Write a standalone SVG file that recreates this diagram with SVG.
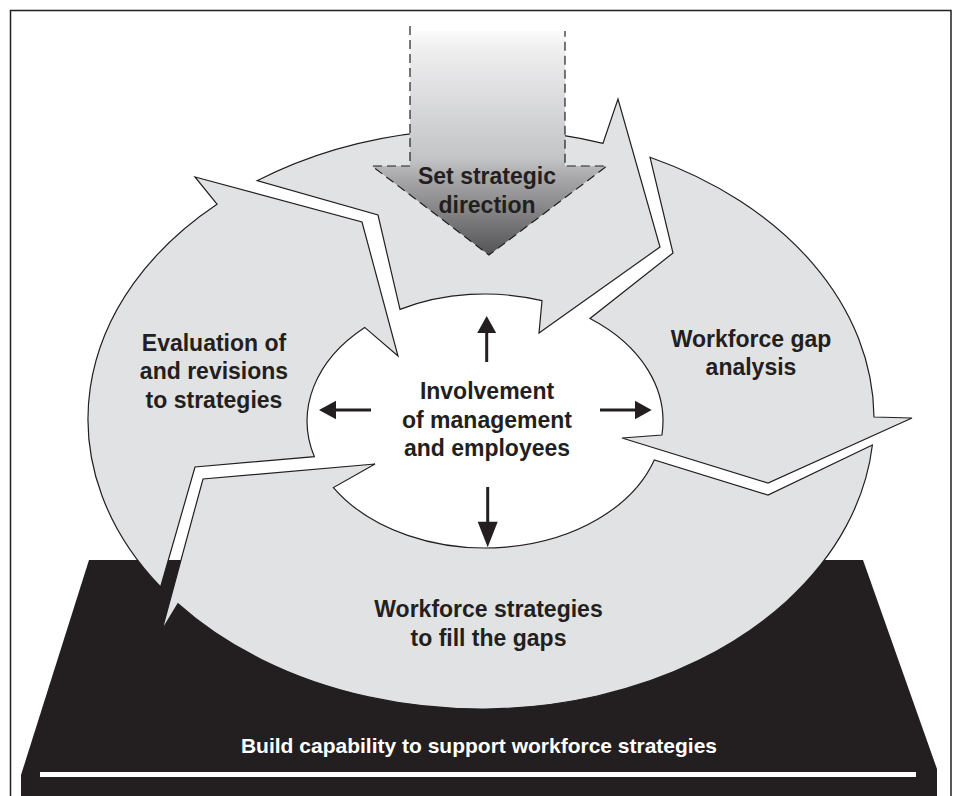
<svg xmlns="http://www.w3.org/2000/svg" width="956" height="796" viewBox="0 0 956 796">
  <defs>
    <linearGradient id="dirGrad" gradientUnits="userSpaceOnUse" x1="0" y1="26" x2="0" y2="255">
      <stop offset="0" stop-color="#ffffff"/>
      <stop offset="0.1" stop-color="#efeff0"/>
      <stop offset="0.58" stop-color="#c3c4c6"/>
      <stop offset="0.66" stop-color="#a9a9ab"/>
      <stop offset="1" stop-color="#545456"/>
    </linearGradient>
  </defs>
  <style>
    .seg { fill: #e1e2e3; stroke: #231f20; stroke-width: 1.2; stroke-linejoin: miter; }
    .lbl { font-family: "Liberation Sans", Arial, Helvetica, sans-serif; font-weight: bold; font-size: 23px; fill: #231f20; text-anchor: middle; }
    .base-lbl { font-family: "Liberation Sans", Arial, Helvetica, sans-serif; font-weight: bold; font-size: 21px; fill: #ffffff; text-anchor: middle; }
    .shaft { stroke: #231f20; stroke-width: 3; fill: none; }
    .head { fill: #231f20; }
    .dash { fill: none; stroke: #231f20; stroke-width: 1.2; stroke-dasharray: 9 5; }
  </style>

  <rect x="0" y="0" width="956" height="796" fill="#ffffff"/>
  <rect x="10.5" y="10.5" width="940.5" height="800" fill="none" stroke="#231f20" stroke-width="1.5"/>

  <g id="platform">
    <polygon points="89,560 863,560 937,769 937,800 21,800 21,775" fill="#231f20"/>
    <rect x="40" y="772" width="876" height="5" fill="#ffffff"/>
    <text class="base-lbl" x="479" y="753">Build capability to support workforce strategies</text>
  </g>

  <g id="seg-top">
    <path class="seg" d="M 257 180.7 A 393 290 0 0 1 603 143.3 L 618 99 L 660 247 L 539 333 L 542 300.7 A 178 127 0 0 0 400 309.4 L 378 215 Z"/>
  </g>

  <g id="seg-right">
    <path class="seg" d="M 650 157.2 A 393 290 0 0 1 874 417 L 912 418 L 768 483 L 622 438 L 661.9 435 A 178 127 0 0 0 590 318.5 L 673 253 Z"/>
    <text class="lbl" x="751" y="346.5">Workforce gap</text>
    <text class="lbl" x="751" y="375">analysis</text>
  </g>

  <g id="seg-bottom">
    <path class="seg" d="M 872.4 445 A 393 290 0 0 1 178 603.7 L 162 630 L 203 479 L 375 464 L 333.4 487.6 A 178 127 0 0 0 654.3 460 L 768 495 Z"/>
    <text class="lbl" x="488.5" y="617">Workforce strategies</text>
    <text class="lbl" x="488.5" y="645.5">to fill the gaps</text>
  </g>

  <g id="seg-left">
    <path class="seg" d="M 160.6 587 A 393 290 0 0 1 217 204.2 L 195 177 L 362 222 L 398 356 L 364.7 327.4 A 178 127 0 0 0 314.3 456.6 L 195 467 Z"/>
    <text class="lbl" x="214" y="350.5">Evaluation of</text>
    <text class="lbl" x="214" y="379">and revisions</text>
    <text class="lbl" x="214" y="407.5">to strategies</text>
  </g>

  <g id="direction">
    <polygon points="410,31 565,31 565,166 607,166 489,255 372,166 410,166" fill="url(#dirGrad)"/>
    <polyline class="dash" points="410,26 410,166 372,166 489,255 607,166 565,166 565,31"/>
    <text class="lbl" x="487" y="183.5">Set strategic</text>
    <text class="lbl" x="487" y="212.5">direction</text>
  </g>

  <g id="center">
    <text class="lbl" x="487" y="399">Involvement</text>
    <text class="lbl" x="487" y="427.5">of management</text>
    <text class="lbl" x="487" y="456">and employees</text>
  </g>

  <g id="connectors">
    <line class="shaft" x1="486.7" y1="362" x2="486.7" y2="331"/>
    <polygon class="head" points="486.7,316 496.2,333 477.2,333"/>
    <line class="shaft" x1="371" y1="410" x2="334" y2="410"/>
    <polygon class="head" points="319,410 336,400.7 336,419.3"/>
    <line class="shaft" x1="600" y1="410" x2="637" y2="410"/>
    <polygon class="head" points="651.7,410 635,400.7 635,419.3"/>
    <line class="shaft" x1="487.7" y1="487" x2="487.7" y2="524"/>
    <polygon class="head" points="487.7,547.3 477.7,521.7 497.7,521.7"/>
  </g>
</svg>
